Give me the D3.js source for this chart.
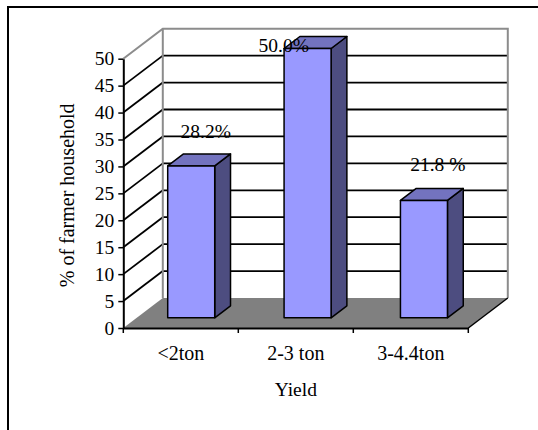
<!DOCTYPE html>
<html>
<head>
<meta charset="utf-8">
<script src="https://cdn.jsdelivr.net/npm/d3@7"></script>
<style>
  html, body { margin: 0; padding: 0; background: #fff; }
  svg { display: block; }
</style>
</head>
<body>
<svg id="chart" width="538" height="430"></svg>
<script>
// Yield classes and the share of farmer households in each
const categories = ["<2ton", "2-3 ton", "3-4.4ton"];
const shares = [28.2, 50.0, 21.8];
const valueLabels = ["28.2%", "50.0%", "21.8 %"];
const yTicks = [0, 5, 10, 15, 20, 25, 30, 35, 40, 45, 50];

// Layout
const W = 538, H = 430;
const plot = { left: 123.3, right: 468.3, top: 58.7, bottom: 328 };
const depth = { dx: 39.5, dy: 30 };      // oblique offset of the back wall
const barDepth = { front: 0.34, back: 0.74 };
const barWidthFrac = 0.404;
const FONT = "'Liberation Serif', 'Times New Roman', Times, serif";
const fontSize = 19.5;
// label placement: offset from band centre / bar top, clamped to the plot top
const labelNudge = [[25, -38], [-12, -38], [27, -40]];
const labelTopLimit = 52;

const colors = {
  front: "#9999FF", side: "#4D4D80", top: "#7373BF",
  floor: "#808080", wallEdge: "#8C8C8C", grid: "#000"
};

const svg = d3.select("#chart");

const x = d3.scaleBand().domain(categories).range([plot.left, plot.right]).padding(0);
// columns sit on a slightly wider band than the category axis
const xBar = x.copy().range([plot.left - 3.7, plot.right + 0.4]);
const y = d3.scaleLinear().domain([0, 50]).range([plot.bottom, plot.top]);

const proj = (px, py, z) => [px + z * depth.dx, py - z * depth.dy];
const line = d3.line();

const styleText = (sel, size = fontSize) => sel
  .attr("font-family", null)
  .style("font-family", FONT)
  .style("font-size", size + "px")
  .attr("fill", "#000");

// chart frame
svg.append("rect")
  .attr("x", 8).attr("y", 7).attr("width", W).attr("height", H)
  .attr("fill", "#fff").attr("stroke", "#000").attr("stroke-width", 2);

// gridlines on the side wall and the back wall
const gridVals = yTicks.filter(v => v > 0 && v < 50);
const grid = svg.append("g").attr("stroke", colors.grid).attr("stroke-width", 1.8).attr("fill", "none");
grid.selectAll("path.side")
  .data(gridVals)
  .join("path").attr("class", "side")
  .attr("d", v => line([[plot.left, y(v)], proj(plot.left, y(v), 1)]));
grid.selectAll("path.back")
  .data(gridVals)
  .join("path").attr("class", "back")
  .attr("d", v => line([proj(plot.left, y(v), 1), proj(plot.right, y(v), 1)]));

// wall edges
const walls = svg.append("g").attr("stroke", colors.wallEdge).attr("stroke-width", 2).attr("fill", "none");
walls.append("path").attr("d", line([
  [plot.left, y(50)], proj(plot.left, y(50), 1), proj(plot.right, y(50), 1), proj(plot.right, y(0), 1)
]));
walls.append("path").attr("d", line([proj(plot.left, y(50), 1), proj(plot.left, y(0), 1)]));

// floor
svg.append("path")
  .attr("d", line([
    [plot.left, y(0)], [plot.right, y(0)], proj(plot.right, y(0), 1), proj(plot.left, y(0), 1)
  ]) + "Z")
  .attr("fill", colors.floor).attr("stroke", "none");
svg.append("path")
  .attr("d", line([[plot.right, y(0)], proj(plot.right, y(0), 1)]))
  .attr("stroke", "#000").attr("stroke-width", 1.5);

// y axis
const yAxis = svg.append("g")
  .attr("transform", `translate(${plot.left},0)`)
  .call(d3.axisLeft(y).tickValues(yTicks).tickSize(5).tickSizeOuter(0).tickPadding(4));
yAxis.attr("font-family", null);
yAxis.select(".domain").attr("stroke", "#000").attr("stroke-width", 2);
yAxis.selectAll(".tick line").attr("stroke", "#000").attr("stroke-width", 1.5);
yAxis.selectAll(".tick text").call(styleText);

// x axis: labels centred in each band, ticks on the band boundaries
const xAxis = svg.append("g")
  .attr("transform", `translate(0,${plot.bottom})`)
  .call(d3.axisBottom(x).tickSize(0).tickSizeOuter(0).tickPadding(18));
xAxis.attr("font-family", null);
xAxis.select(".domain").attr("stroke", "#000").attr("stroke-width", 2);
xAxis.selectAll(".tick text").call(styleText, 20);
const bounds = categories.map(c => x(c)).concat([plot.right]);
xAxis.selectAll("line.bound")
  .data(bounds)
  .join("line").attr("class", "bound")
  .attr("x1", d => d).attr("x2", d => d)
  .attr("y1", 0).attr("y2", 5)
  .attr("stroke", "#000").attr("stroke-width", 1.5);

// axis titles
svg.append("text")
  .attr("transform", `translate(74,${(plot.top + plot.bottom) / 2 + 2}) rotate(-90)`)
  .attr("text-anchor", "middle")
  .call(styleText, 20)
  .text("% of farmer household");
svg.append("text")
  .attr("x", (plot.left + plot.right) / 2)
  .attr("y", 396)
  .attr("text-anchor", "middle")
  .call(styleText)
  .text("Yield");

// 3-D columns
const barW = xBar.bandwidth() * barWidthFrac;
const bars = svg.append("g").attr("stroke", "#000").attr("stroke-width", 1.5).attr("stroke-linejoin", "round");
categories.forEach((c, i) => {
  const x0 = xBar(c) + (xBar.bandwidth() - barW) / 2;
  const x1 = x0 + barW;
  const yTop = y(shares[i]);
  const yBase = y(0);
  const f = barDepth.front, b = barDepth.back;
  const g = bars.append("g");
  // right side
  g.append("path").attr("fill", colors.side).attr("d", line([
    proj(x1, yBase, f), proj(x1, yBase, b), proj(x1, yTop, b), proj(x1, yTop, f)
  ]) + "Z");
  // top
  g.append("path").attr("fill", colors.top).attr("d", line([
    proj(x0, yTop, f), proj(x1, yTop, f), proj(x1, yTop, b), proj(x0, yTop, b)
  ]) + "Z");
  // front
  g.append("path").attr("fill", colors.front).attr("d", line([
    proj(x0, yBase, f), proj(x1, yBase, f), proj(x1, yTop, f), proj(x0, yTop, f)
  ]) + "Z");
});

// value labels
svg.append("g").selectAll("text")
  .data(shares)
  .join("text")
  .attr("x", (d, i) => x(categories[i]) + x.bandwidth() / 2 + labelNudge[i][0])
  .attr("y", (d, i) => Math.max(y(d) + labelNudge[i][1], labelTopLimit))
  .attr("text-anchor", "middle")
  .call(styleText)
  .text((d, i) => valueLabels[i]);
</script>
</body>
</html>
